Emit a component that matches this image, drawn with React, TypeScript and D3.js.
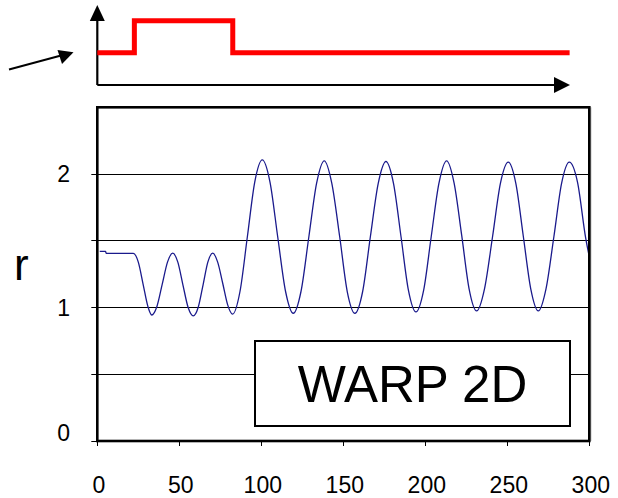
import React from 'react';
import * as d3 from 'd3';

// ---- data ----
const timeValues = [1.5, 5, 5.5, 22, 25, 28, 30.8, 33.2, 36.4, 39.6, 42.8, 46, 49.1, 52.2, 55.4, 58.5, 61.5, 64.5, 67.4, 70.4, 73.4, 76.5, 79.5, 82.5, 87, 91.5, 96, 100.6, 105.3, 110, 114.8, 119.5, 124.2, 129, 133.7, 138.4, 143, 147.8, 152.4, 157.1, 161.8, 166.5, 171.3, 176, 180.6, 185.2, 189.7, 194.3, 199, 203.6, 208.3, 213, 217.6, 222.2, 226.7, 231.3, 236.1, 241, 245.8, 250.6, 255.2, 259.8, 264.3, 268.9, 273.6, 278.4, 283.1, 287.8, 292.8, 297.8, 300];
const rValues = [1.42, 1.42, 1.405, 1.405, 1.34, 1.17, 1.01, 0.944, 1.01, 1.175, 1.34, 1.407, 1.34, 1.17, 1.0, 0.937, 1.0, 1.17, 1.34, 1.407, 1.34, 1.18, 1.02, 0.95, 1.12, 1.53, 1.94, 2.106, 1.94, 1.53, 1.12, 0.957, 1.12, 1.53, 1.93, 2.099, 1.93, 1.53, 1.12, 0.957, 1.12, 1.53, 1.93, 2.094, 1.93, 1.53, 1.13, 0.967, 1.13, 1.53, 1.93, 2.099, 1.93, 1.54, 1.14, 0.975, 1.14, 1.53, 1.93, 2.089, 1.93, 1.53, 1.14, 0.975, 1.14, 1.53, 1.93, 2.089, 1.94, 1.52, 1.38];

const yTicks = [0, 0.5, 1, 1.5, 2];
const yTickLabels = ['0', '', '1', '', '2'];
const yGrid = [0.5, 1, 1.5, 2];
const xTicks = [0, 50, 100, 150, 200, 250, 300];

const pumpTimes = [0, 22.6, 82.6, 288];
const pumpLevels = [0, 1, 0, 0];

const boxLabel = 'WARP 2D';
const yAxisLabel = 'r';

const FONT = 'Liberation Sans, Arial, Helvetica, sans-serif';

export default function App() {
  const W = 618, H = 498;
  const left = 97.3, right = 589.3, top = 107.3, bottom = 441;

  const x = d3.scaleLinear().domain([0, 300]).range([left, right]);
  const y = d3.scaleLinear().domain([0, 2.5]).range([bottom, top]);
  const pumpY = d3.scaleLinear().domain([0, 1]).range([52.7, 20.7]);

  const pts = timeValues.map((t, i) => [t, rValues[i]] as [number, number]);
  const line = d3.line<[number, number]>()
    .x(d => x(d[0]))
    .y(d => y(d[1]))
    .curve(d3.curveMonotoneX);

  const pumpPts = pumpTimes.map((t, i) => [t, pumpLevels[i]] as [number, number]);
  const pumpLine = d3.line<[number, number]>()
    .x(d => x(d[0]))
    .y(d => pumpY(d[1]))
    .curve(d3.curveStepAfter);

  const axY = 85;
  const axX = x(0);
  const snap = (v: number) => Math.floor(v) + 0.5;

  return (
    <svg width={W} height={H} style={{ position: 'absolute', left: 0, top: 0, background: '#fff' }}
      fontFamily={FONT}>
      {/* inset: pump schematic */}
      <line x1={axX} y1={axY} x2={555} y2={axY} stroke="#000" strokeWidth={2.2} />
      <polygon points={`554,77 570,85 554,93`} fill="#000" />
      <line x1={axX} y1={axY} x2={axX} y2={20} stroke="#000" strokeWidth={2.2} />
      <polygon points={`${axX - 7.5},21 ${axX},5 ${axX + 7.5},21`} fill="#000" />
      <path d={pumpLine(pumpPts) || ''} fill="none" stroke="#ff0000" strokeWidth={5} strokeLinecap="butt" strokeLinejoin="miter" />
      {/* left pointer arrow */}
      <line x1={9} y1={69.5} x2={62} y2={55.3} stroke="#000" strokeWidth={2} />
      <polygon points="73.5,52.3 57.5,50 62,64" fill="#000" />

      {/* main plot */}
      {yGrid.map(v => (
        <line key={v} x1={left} x2={right} y1={snap(y(v))} y2={snap(y(v))} stroke="#000" strokeWidth={1.2} />
      ))}
      <path d={line(pts) || ''} fill="none" stroke="#1a1a8c" strokeWidth={1.3} />

      {/* WARP 2D box */}
      <rect x={255} y={341} width={315} height={85} fill="#fff" stroke="#000" strokeWidth={2} />
      <text x={412.5} y={402} textAnchor="middle" fontSize={51} fill="#000">{boxLabel}</text>

      {/* frame */}
      <line x1={right + 1.5} x2={right + 1.5} y1={top} y2={bottom} stroke="#999" strokeWidth={1} />
      <rect x={left} y={top} width={right - left} height={bottom - top} fill="none" stroke="#000" strokeWidth={2.6} />

      {/* y ticks */}
      {yTicks.map((v, i) => (
        <g key={v}>
          <line x1={left - 6} x2={left} y1={snap(y(v))} y2={snap(y(v))} stroke="#000" strokeWidth={1} />
          {yTickLabels[i] && (
            <text x={70} y={(v === 0 ? y(v) - 8 : y(v)) + 8.3} textAnchor="end" fontSize={23} fill="#000">{yTickLabels[i]}</text>
          )}
        </g>
      ))}
      {/* x ticks */}
      {xTicks.map(v => (
        <g key={v}>
          <line x1={snap(x(v))} x2={snap(x(v))} y1={bottom} y2={bottom + 5} stroke="#000" strokeWidth={1} />
          <text x={x(v) + 1.5} y={493} textAnchor="middle" fontSize={23} fill="#000">{v}</text>
        </g>
      ))}

      {/* y axis label */}
      <text x={14} y={280} fontSize={44} fill="#000">{yAxisLabel}</text>
    </svg>
  );
}
